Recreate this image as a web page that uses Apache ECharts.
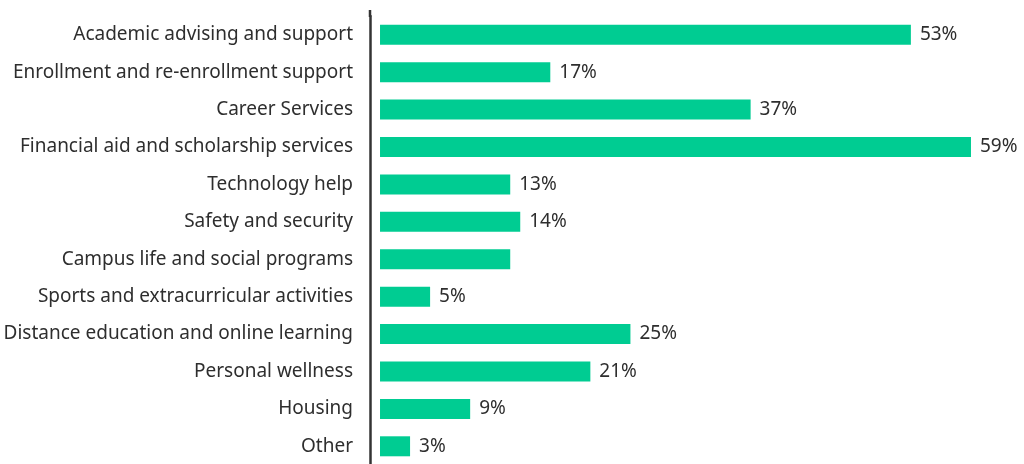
<!DOCTYPE html>
<html>
<head>
<meta charset="utf-8">
<script src="https://cdn.jsdelivr.net/npm/echarts@6/dist/echarts.min.js"></script>
<style>
  html, body { margin: 0; padding: 0; background: #fff; }
  #chart { width: 1024px; height: 464px; }
</style>
</head>
<body>
<div id="chart"></div>
<script>
// Student services used, share of respondents (%)
const categories = [
  'Academic advising and support',
  'Enrollment and re-enrollment support',
  'Career Services',
  'Financial aid and scholarship services',
  'Technology help',
  'Safety and security',
  'Campus life and social programs',
  'Sports and extracurricular activities',
  'Distance education and online learning',
  'Personal wellness',
  'Housing',
  'Other'
];
const values = [53, 17, 37, 59, 13, 14, 13, 5, 25, 21, 9, 3];
// categories whose value label is not printed
const unlabeled = ['Campus life and social programs'];

const TEXT = '#2e2e2e';
const GREEN = '#00cc92';
const FONT = 'Noto Sans';

const chart = echarts.init(document.getElementById('chart'), null, { renderer: 'canvas' });
chart.setOption({
  animation: false,
  grid: {
    left: 370, right: 43, top: 16, bottom: -1,
    containLabel: false,
    outerBoundsMode: 'none'
  },
  xAxis: {
    type: 'value',
    min: -1,
    max: 60,
    show: false
  },
  yAxis: {
    type: 'category',
    inverse: true,
    data: categories,
    axisLine: { show: true, onZero: false, lineStyle: { color: '#333', width: 2.5 } },
    axisTick: { show: false },
    axisLabel: {
      color: TEXT,
      fontFamily: FONT,
      fontSize: 19,
      margin: 17
    }
  },
  // short extension of the axis line above the first row
  graphic: [{
    type: 'line',
    shape: { x1: 370, y1: 10, x2: 370, y2: 17 },
    style: { stroke: '#333', lineWidth: 2.5 }
  }],
  series: [{
    type: 'bar',
    barWidth: 20,
    itemStyle: { color: GREEN },
    data: categories.map((c, i) => ({
      value: values[i],
      label: { show: !unlabeled.includes(c) }
    })),
    label: {
      show: true,
      position: 'right',
      distance: 9,
      formatter: '{c}%',
      color: TEXT,
      fontFamily: FONT,
      fontSize: 19
    }
  }]
});
</script>
</body>
</html>
